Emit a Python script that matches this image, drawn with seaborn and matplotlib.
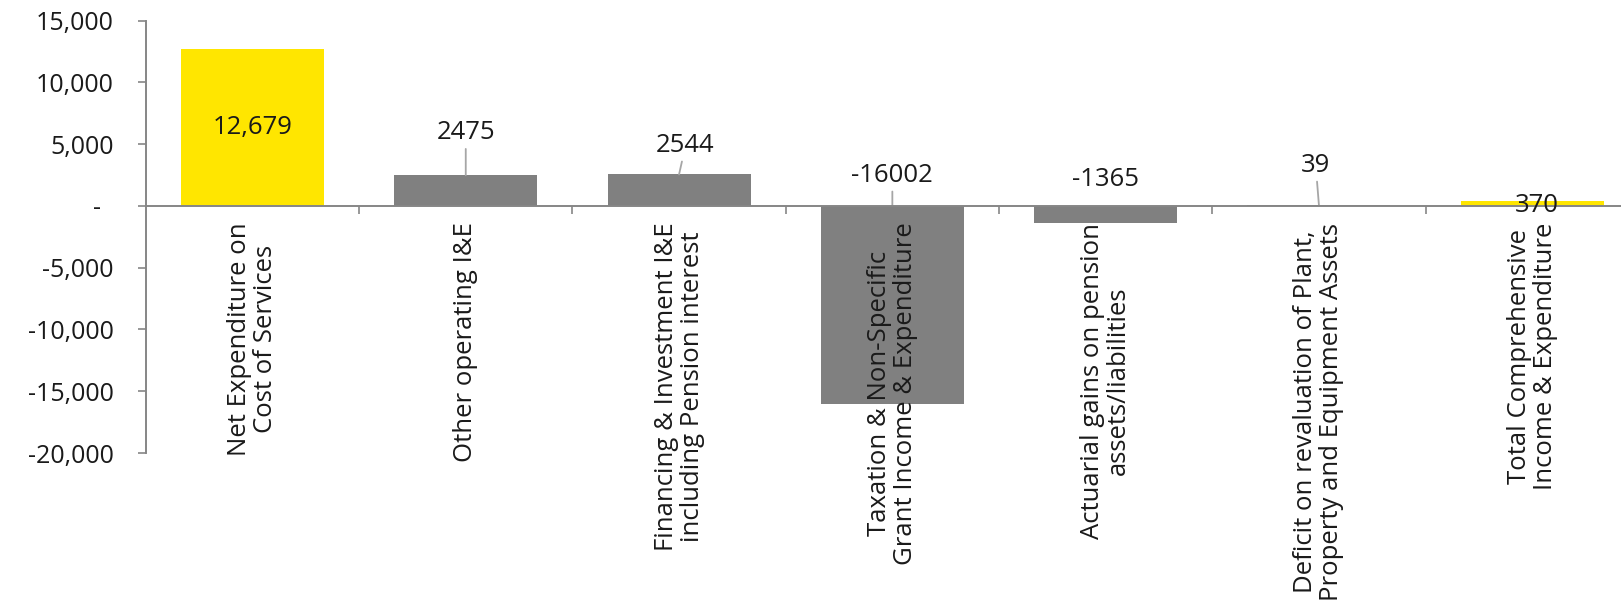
import matplotlib
matplotlib.use("Agg")
import matplotlib.pyplot as plt
import seaborn as sns
import pandas as pd
from matplotlib.ticker import FixedLocator

# ---- data ----
categories = [
    "Net Expenditure on\nCost of Services",
    "Other operating I&E",
    "Financing & Investment I&E\nincluding Pension interest",
    "Taxation & Non-Specific\nGrant Income & Expenditure",
    "Actuarial gains on pension\nassets/liabilities",
    "Deficit on revaluation of Plant,\nProperty and Equipment Assets",
    "Total Comprehensive\nIncome & Expenditure",
]
values = [12679, 2475, 2544, -16002, -1365, 39, 370]
value_labels = ["12,679", "2475", "2544", "-16002", "-1365", "39", "370"]
bar_kind = ["total", "step", "step", "step", "step", "step", "total"]
y_ticks = [-20000, -15000, -10000, -5000, 0, 5000, 10000, 15000]
y_tick_labels = ["-20,000", "-15,000", "-10,000", "-5,000", "-  ", "5,000", "10,000", "15,000"]

# ---- layout (label placement, not data) ----
label_pos = [  # (x offset in category units, y in data units, leader line?)
    (0.0, None, False),
    (0.0, 5900, True),
    (0.03, 4850, True),
    (0.0, 2450, True),
    (0.0, 2130, False),
    (-0.015, 3250, True),
    (0.02, 0, False),
]

YELLOW = "#FFE600"
GREY = "#808080"
AXIS = "#868686"
LEADER = "#A6A6A6"
TEXT = "#1A1A1A"

sns.set_theme(style="white")
plt.rcParams["font.family"] = ["Open Sans", "DejaVu Sans"]

fig = plt.figure(figsize=(16.21, 6.04), dpi=100)
ax = fig.add_axes([145.8 / 1621, 151 / 604, 1493.1 / 1621, 432.5 / 604])

df = pd.DataFrame({"cat": categories, "val": values, "kind": bar_kind})
sns.barplot(data=df, x="cat", y="val", hue="kind",
            palette={"total": YELLOW, "step": GREY},
            width=0.67, saturation=1, legend=False, ax=ax, linewidth=0)
for p in ax.patches:
    p.set_zorder(1)
ax.set_axisbelow(False)

ax.set_xlim(-0.5, len(categories) - 0.5)
ax.set_ylim(-20000, 15000)
ax.set_xlabel("")
ax.set_ylabel("")

# spines
for s in ["top", "right"]:
    ax.spines[s].set_visible(False)
ax.spines["bottom"].set_position(("data", 0))
for s in ["left", "bottom"]:
    ax.spines[s].set_color(AXIS)
    ax.spines[s].set_linewidth(1.4)
    ax.spines[s].set_zorder(3)

# y axis
ax.yaxis.set_major_locator(FixedLocator(y_ticks))
ax.set_yticklabels(y_tick_labels)
ax.tick_params(axis="y", which="major", direction="out", length=6, width=1.2,
               color=AXIS, pad=17, labelsize=18, labelcolor=TEXT, left=True)

# x axis
ax.set_xticks(range(len(categories)))
ax.set_xticklabels(categories, rotation=90, ha="center", va="top",
                   multialignment="center", fontsize=18.5, color=TEXT,
                   linespacing=1.05)
ax.tick_params(axis="x", which="major", length=0, pad=12, bottom=True)
ax.xaxis.set_minor_locator(FixedLocator([i + 0.5 for i in range(len(categories))]))
ax.tick_params(axis="x", which="minor", direction="out", length=6, width=1.2,
               color=AXIS, bottom=True)
for t in ax.get_xticklabels():
    t.set_zorder(4)

# value labels
for i, (v, lab) in enumerate(zip(values, value_labels)):
    dx, ty, leader = label_pos[i]
    if ty is None:
        ax.text(i + dx, v / 2, lab, ha="center", va="center", fontsize=18.5, color=TEXT)
        continue
    anchor = (i, max(v, 0))
    if leader:
        ax.annotate(lab, xy=anchor, xytext=(i + dx, ty), ha="center", va="center",
                    fontsize=18.5, color=TEXT,
                    arrowprops=dict(arrowstyle="-", color=LEADER, lw=1.3,
                                    patchA=None, shrinkA=11.5, shrinkB=0))
    else:
        ax.text(i + dx, ty, lab, ha="center", va="center", fontsize=18.5,
                color=TEXT, zorder=5)

fig.savefig("out.png", dpi=100)
